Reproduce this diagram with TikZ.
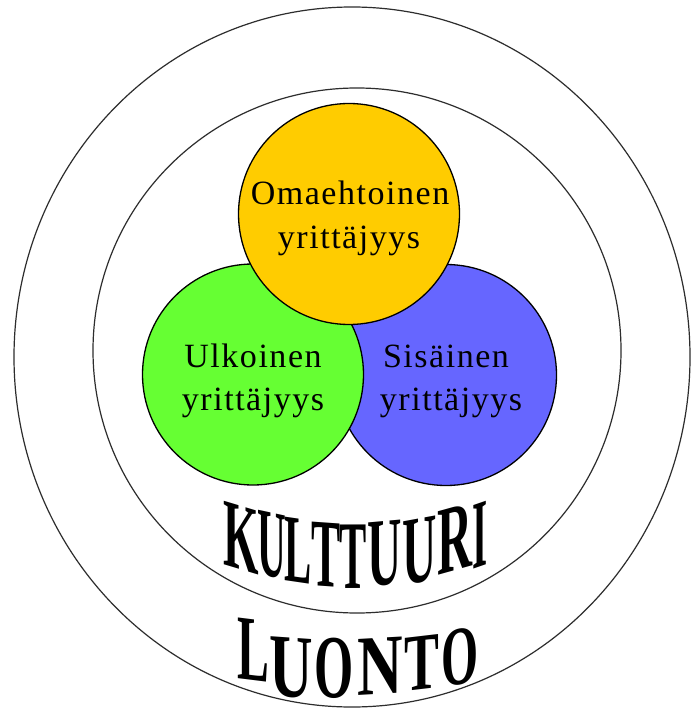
\documentclass[tikz,border=0pt]{standalone}
\usepackage{fontspec}
\usepackage{graphicx}
\setmainfont{Liberation Serif}
\newfontfamily\lblfont[LetterSpace=4.5]{Liberation Serif}
\usetikzlibrary{shapes.geometric}
\definecolor{goldc}{RGB}{255,204,0}
\definecolor{greenc}{RGB}{102,255,51}
\definecolor{bluec}{RGB}{102,102,255}
\definecolor{ringc}{RGB}{45,45,45}
\tikzset{
  ringshape/.style={draw=ringc, line width=1.2pt, ellipse, inner sep=0pt},
  bubble/.style={draw=black, line width=1.3pt, circle, inner sep=0pt, minimum size=221pt},
  lbl/.style={font=\lblfont\fontsize{34}{34}\selectfont, anchor=base, inner sep=0pt},
  archa/.style={font=\bfseries\fontsize{97}{97}\selectfont, anchor=base, inner sep=0pt},
  archb/.style={font=\bfseries\fontsize{90}{90}\selectfont, anchor=base, inner sep=0pt},
}
\begin{document}
\begin{tikzpicture}[x=1pt, y=-1pt]
  \fill[white] (0,0) rectangle (691,708);
  \useasboundingbox (0,0) rectangle (691,708);
  % rings
  \node[ringshape, minimum width=676pt, minimum height=700pt] (luonto) at (352,357) {};
  \node[ringshape, minimum width=528pt, minimum height=525pt] (kulttuuri) at (357,350.5) {};
  % bubbles
  \node[bubble, fill=bluec] (sis) at (446,375) {};
  \node[bubble, fill=greenc] (ulk) at (253,374.5) {};
  \node[bubble, fill=goldc] (oma) at (349,214) {};
  % labels
  \node[lbl] (oma1) at (350,205) {Omaehtoinen};
  \node[lbl] (oma2) at (349,248) {yrittäjyys};
  \node[lbl] (ulk1) at (253,367) {Ulkoinen};
  \node[lbl] (ulk2) at (253,410) {yrittäjyys};
  \node[lbl] (sis1) at (446,367) {Sisäinen};
  \node[lbl] (sis2) at (451,410) {yrittäjyys};
  % KULTTUURI
  \foreach \c/\x/\y/\sx [count=\i] in {K/241/570/0.47, U/272/577/0.41, L/298/582/0.42, T/326/587/0.45, T/353/588/0.42, U/385/585/0.49, U/420/582/0.49, R/455/571/0.50, I/480/567/0.40} {
    \pgfmathsetmacro\sl{(\x-352)/370}
    \node[archa, yslant=\sl] (k\i) at (\x,\y) {\scalebox{\sx}[1]{\c}};
  }
  % LUONTO
  \foreach \c/\x/\y/\sx/\sy [count=\i] in {L/253/680/0.53/1.03, U/291/697/0.67/1.0, O/334/698/0.56/1.0, N/380/694/0.70/0.95, T/422/689/0.58/0.9, O/460/684/0.53/0.93} {
    \pgfmathsetmacro\sl{(\x-340)/700}
    \node[archb, yslant=\sl] (l\i) at (\x,\y) {\scalebox{\sx}[\sy]{\c}};
  }
\end{tikzpicture}
\end{document}
